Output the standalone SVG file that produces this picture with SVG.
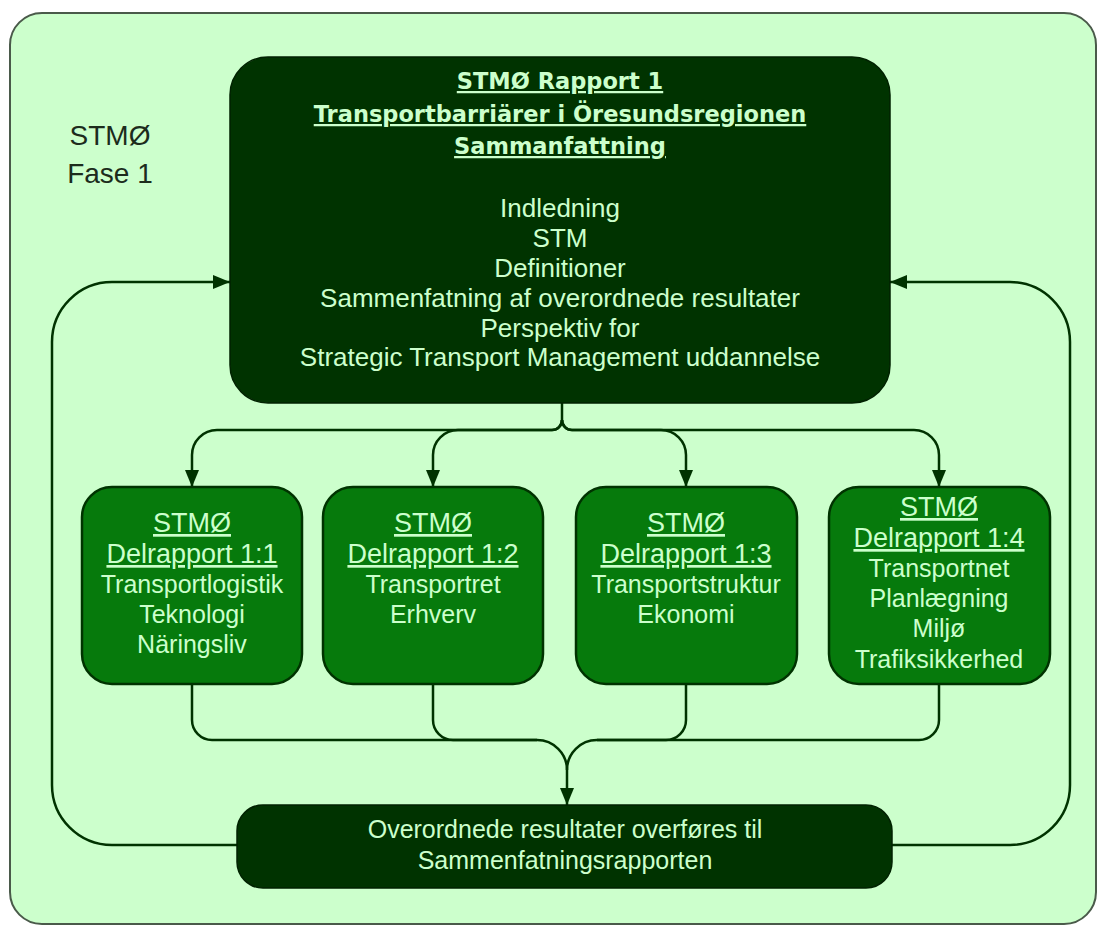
<svg xmlns="http://www.w3.org/2000/svg" width="1098" height="926" viewBox="0 0 1098 926">
  <style>
    .frame { fill: #ccffcc; stroke: #4a5a4a; stroke-width: 2; }
    .dark { fill: #003300; stroke: #002200; stroke-width: 1.5; }
    .sub { fill: #067a0c; stroke: #003300; stroke-width: 2.5; }
    .link { fill: none; stroke: #003300; stroke-width: 2.5; }
    .lt { font-family: "Liberation Sans", Arial, sans-serif; fill: #ccffcc; text-anchor: middle; }
    .ttl { font-family: "DejaVu Sans", Tahoma, sans-serif; font-weight: bold; font-size: 22.5px; fill: #ccffcc; text-anchor: middle; text-decoration: underline; }
    .ul { text-decoration: underline; }
    .side { font-family: "Liberation Sans", Arial, sans-serif; font-size: 28px; fill: #1c2c1c; text-anchor: middle; }
  </style>
  <defs>
    <marker id="arrow" viewBox="0 0 17 14" refX="17" refY="7" markerWidth="17" markerHeight="14" markerUnits="userSpaceOnUse" orient="auto">
      <path d="M0,0 L17,7 L0,14 z" fill="#003300"/>
    </marker>
  </defs>

  <!-- phase frame -->
  <rect class="frame" x="10" y="13" width="1086" height="911" rx="32"/>
  <g id="phase-label">
    <text class="side" x="110" y="145">STMØ</text>
    <text class="side" x="110" y="183">Fase 1</text>
  </g>

  <!-- connectors -->
  <g id="connectors">
    <!-- fan-out from the main report -->
    <path class="link" d="M562,403 V420"/>
    <path class="link" marker-end="url(#arrow)" d="M562,420 A10 10 0 0 1 552 430 H217 A25 25 0 0 0 192 455 V487"/>
    <path class="link" marker-end="url(#arrow)" d="M562,420 A10 10 0 0 1 552 430 H458 A25 25 0 0 0 433 455 V487"/>
    <path class="link" marker-end="url(#arrow)" d="M562,420 A10 10 0 0 0 572 430 H661 A25 25 0 0 1 686 455 V487"/>
    <path class="link" marker-end="url(#arrow)" d="M562,420 A10 10 0 0 0 572 430 H914 A25 25 0 0 1 939 455 V487"/>
    <!-- fan-in to the results node -->
    <path class="link" d="M192,684 V720 A20 20 0 0 0 212 740 H537 A30 30 0 0 1 567 770"/>
    <path class="link" d="M433,684 V720 A20 20 0 0 0 453 740 H537"/>
    <path class="link" d="M686,684 V720 A20 20 0 0 1 666 740 H597 A30 30 0 0 0 567 770"/>
    <path class="link" d="M939,684 V720 A20 20 0 0 1 919 740 H597"/>
    <path class="link" marker-end="url(#arrow)" d="M567,770 V805"/>
    <!-- feedback loops to the main report -->
    <path class="link" marker-end="url(#arrow)" d="M237,845 H112 A60 60 0 0 1 52 785 V342 A60 60 0 0 1 112 282 H230"/>
    <path class="link" marker-end="url(#arrow)" d="M892,845 H1010 A60 60 0 0 0 1070 785 V342 A60 60 0 0 0 1010 282 H890"/>
  </g>

  <!-- main report -->
  <g id="rapport1">
    <rect class="dark" x="230" y="57" width="660" height="346" rx="38"/>
    <text class="ttl" x="560" y="89">STMØ Rapport 1</text>
    <text class="ttl" x="560" y="122">Transportbarriärer i Öresundsregionen</text>
    <text class="ttl" x="560" y="154">Sammanfattning</text>
    <g class="lt" font-size="26">
      <text x="560" y="217">Indledning</text>
      <text x="560" y="247">STM</text>
      <text x="560" y="277">Definitioner</text>
      <text x="560" y="307">Sammenfatning af overordnede resultater</text>
      <text x="560" y="337">Perspektiv for</text>
      <text x="560" y="366">Strategic Transport Management uddannelse</text>
    </g>
  </g>

  <!-- sub reports -->
  <g id="delrapport-1-1">
    <rect class="sub" x="82" y="487" width="220" height="197" rx="30"/>
    <g class="lt">
      <text class="ul" x="192" y="532" font-size="27">STMØ</text>
      <text class="ul" x="192" y="563" font-size="27">Delrapport 1:1</text>
      <text x="192" y="593" font-size="25">Transportlogistik</text>
      <text x="192" y="623" font-size="25">Teknologi</text>
      <text x="192" y="653" font-size="25">Näringsliv</text>
    </g>
  </g>
  <g id="delrapport-1-2">
    <rect class="sub" x="323" y="487" width="220" height="197" rx="30"/>
    <g class="lt">
      <text class="ul" x="433" y="532" font-size="27">STMØ</text>
      <text class="ul" x="433" y="563" font-size="27">Delrapport 1:2</text>
      <text x="433" y="593" font-size="25">Transportret</text>
      <text x="433" y="623" font-size="25">Erhverv</text>
    </g>
  </g>
  <g id="delrapport-1-3">
    <rect class="sub" x="576" y="487" width="221" height="197" rx="30"/>
    <g class="lt">
      <text class="ul" x="686" y="532" font-size="27">STMØ</text>
      <text class="ul" x="686" y="563" font-size="27">Delrapport 1:3</text>
      <text x="686" y="593" font-size="25">Transportstruktur</text>
      <text x="686" y="623" font-size="25">Ekonomi</text>
    </g>
  </g>
  <g id="delrapport-1-4">
    <rect class="sub" x="829" y="487" width="221" height="197" rx="30"/>
    <g class="lt">
      <text class="ul" x="939" y="516" font-size="27">STMØ</text>
      <text class="ul" x="939" y="547" font-size="27">Delrapport 1:4</text>
      <text x="939" y="577" font-size="25">Transportnet</text>
      <text x="939" y="607" font-size="25">Planlægning</text>
      <text x="939" y="637" font-size="25">Miljø</text>
      <text x="939" y="668" font-size="25">Trafiksikkerhed</text>
    </g>
  </g>

  <!-- results node -->
  <g id="resultater">
    <rect class="dark" x="237" y="805" width="655" height="83" rx="26"/>
    <g class="lt" font-size="25">
      <text x="565" y="838">Overordnede resultater overføres til</text>
      <text x="565" y="869">Sammenfatningsrapporten</text>
    </g>
  </g>
</svg>
